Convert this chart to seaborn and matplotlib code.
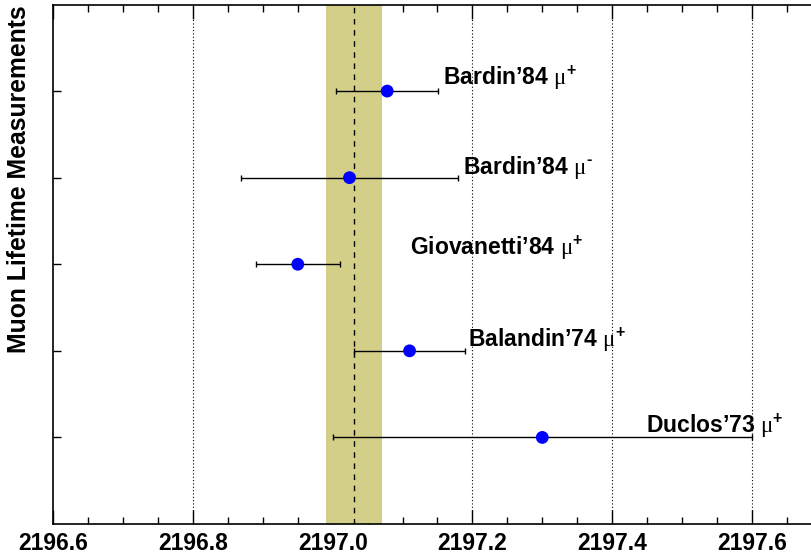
import matplotlib
matplotlib.use("Agg")
import matplotlib.pyplot as plt
import seaborn as sns
import pandas as pd
from matplotlib.ticker import MultipleLocator, FormatStrFormatter

# Muon lifetime measurements (ns)
experiments = ["Bardin’84", "Bardin’84", "Giovanetti’84", "Balandin’74", "Duclos’73"]
charges = ["+", "\u2010", "+", "+", "+"]
lifetimes = [2197.078, 2197.024, 2196.95, 2197.11, 2197.30]
errors = [0.073, 0.155, 0.06, 0.08, 0.30]
rows = [5, 4, 3, 2, 1]

# World average and its uncertainty band
average = 2197.03
average_err = 0.04

# Where each label starts (x, data units) and how far above its row it sits (pixels)
label_x = [2197.158, 2197.186, 2197.111, 2197.193, 2197.448]
label_dy = [6, 4, 9, 4, 5]

df = pd.DataFrame({"experiment": experiments, "charge": charges,
                   "tau": lifetimes, "err": errors, "row": rows})

sns.set_style("ticks")
plt.rcParams["font.family"] = ["Liberation Sans", "DejaVu Sans"]
plt.rcParams["mathtext.fontset"] = "custom"
plt.rcParams["mathtext.rm"] = "Liberation Serif"
plt.rcParams["mathtext.bf"] = "Liberation Sans:bold"
for key in ["text.color", "axes.labelcolor", "xtick.color", "ytick.color",
            "axes.edgecolor"]:
    plt.rcParams[key] = "black"

fig = plt.figure(figsize=(8.12, 5.57), dpi=100)
ax = fig.add_axes([53.3 / 812, 33 / 557, 768.4 / 812, 519.5 / 557])

# dotted vertical grid at the major ticks
for gx in [2196.8, 2197.0, 2197.2, 2197.4, 2197.6]:
    ax.axvline(gx, color="black", lw=0.8, ls=(0, (1, 2)), zorder=0)

# average band and central value
ax.axvspan(average - average_err, average + average_err, color="#d4cf88", lw=0, zorder=1)
ax.axvline(average, color="black", lw=1.0, ls=(0, (4, 4)), zorder=2)

ax.errorbar(df["tau"], df["row"], xerr=df["err"], fmt="none", ecolor="black",
            elinewidth=1.0, capsize=2.5, capthick=1.0, zorder=3)
sns.scatterplot(data=df, x="tau", y="row", ax=ax, color="#0000ff", s=85,
                edgecolor="none", zorder=4, legend=False)

for name, ch, y, lx, dy in zip(experiments, charges, rows, label_x, label_dy):
    ax.annotate(f"{name} " + r"$\mathrm{\mu}^{\mathbf{" + ch + "}}$",
                xy=(lx, y), xytext=(0, dy), textcoords="offset pixels",
                ha="left", va="baseline", fontsize=16.5, fontweight="bold",
                color="black", zorder=5)

ax.set_xlim(2196.6, 2197.7)
ax.set_ylim(0, 6)
ax.xaxis.set_major_locator(MultipleLocator(0.2))
ax.xaxis.set_minor_locator(MultipleLocator(0.05))
ax.xaxis.set_major_formatter(FormatStrFormatter("%.1f"))
ax.set_yticks(rows)
ax.set_yticklabels([])
ax.set_xlabel("")
ax.set_ylabel("")

ax.tick_params(axis="x", which="major", direction="in", length=10, width=1.0,
               top=True, bottom=True, labelsize=16.5, pad=6, colors="black")
ax.tick_params(axis="x", which="minor", direction="in", length=5, width=1.0,
               top=True, bottom=True, colors="black")
ax.tick_params(axis="y", which="major", direction="in", length=6, width=1.0,
               left=True, right=False, colors="black")
for lbl in ax.get_xticklabels():
    lbl.set_fontweight("bold")
for s in ax.spines.values():
    s.set_linewidth(1.2)
    s.set_color("black")
    s.set_visible(True)

fig.text(19 / 812, 1 - 5 / 557, "Muon Lifetime Measurements", rotation=90,
         ha="center", va="top", fontsize=17.8, fontweight="bold", color="black")

fig.savefig("out.png", dpi=100)
